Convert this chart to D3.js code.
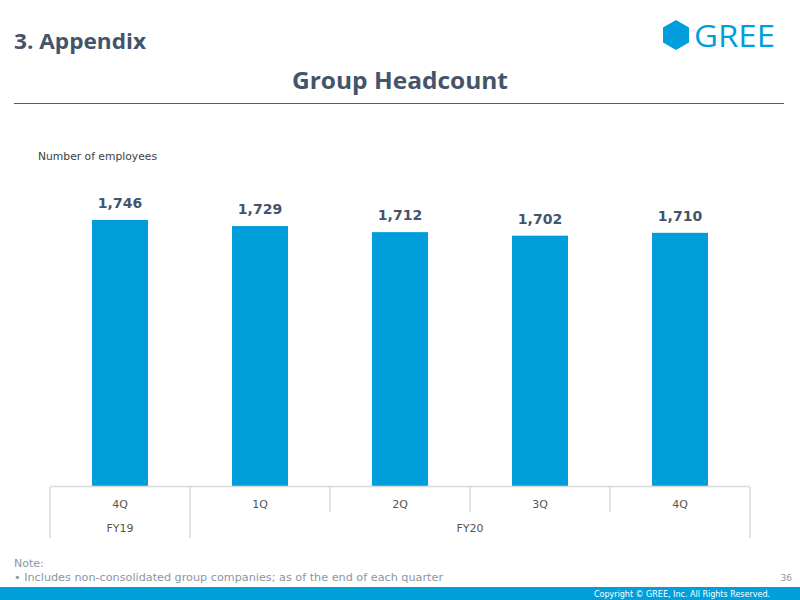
<!DOCTYPE html>
<html>
<head>
<meta charset="utf-8">
<script src="https://cdn.jsdelivr.net/npm/d3@7"></script>
<style>
  body { margin: 0; background: #fff; }
  svg { display: block; font-family: Verdana, "DejaVu Sans", sans-serif; }
</style>
</head>
<body>
<svg width="800" height="600"></svg>
<script>
  var quarters = ["4Q", "1Q", "2Q", "3Q", "4Q"];
  var years = [{ name: "FY19", span: 1 }, { name: "FY20", span: 4 }];
  var headcount = [1746, 1729, 1712, 1702, 1710];

  var svg = d3.select("svg"),
    blue = "#009fdb",
    dark = "#44546a";

  var x = d3.scaleBand()
    .domain(d3.range(quarters.length))
    .range([50, 750])
    .paddingInner(0)
    .paddingOuter(0);

  var y = d3.scaleLinear()
    .domain([1000, 1746])
    .range([486, 220]);

  // header
  svg.append("text").attr("x", 14).attr("y", 49)
    .attr("font-family", "'Open Sans', sans-serif").attr("font-weight", "bold")
    .attr("font-size", 21).attr("textLength", 132).attr("lengthAdjust", "spacingAndGlyphs")
    .attr("fill", dark).text("3. Appendix");

  svg.append("text").attr("x", 400).attr("y", 89).attr("text-anchor", "middle")
    .attr("font-family", "'Open Sans', sans-serif").attr("font-weight", "bold")
    .attr("font-size", 23).attr("textLength", 216).attr("lengthAdjust", "spacingAndGlyphs")
    .attr("fill", dark).text("Group Headcount");

  svg.append("line").attr("x1", 14).attr("x2", 784).attr("y1", 103.5).attr("y2", 103.5)
    .attr("stroke", "#595959").attr("stroke-width", 1);

  // logo
  var hex = d3.range(6).map(function(i) {
    var a = Math.PI / 3 * i - Math.PI / 2;
    return [676 + 15 * Math.cos(a), 35 + 15 * Math.sin(a)];
  });
  svg.append("polygon").attr("points", hex.join(" ")).attr("fill", blue);
  svg.append("text").attr("x", 694).attr("y", 47)
    .attr("font-family", "'Open Sans', sans-serif").attr("font-size", 31)
    .attr("textLength", 81).attr("lengthAdjust", "spacingAndGlyphs")
    .attr("fill", blue).text("GREE");

  svg.append("text").attr("x", 38).attr("y", 160)
    .attr("font-size", 11).attr("textLength", 119).attr("lengthAdjust", "spacingAndGlyphs")
    .attr("fill", "#404040").text("Number of employees");

  // bars
  svg.selectAll("rect.bar")
    .data(headcount)
    .enter().append("rect")
      .attr("class", "bar")
      .attr("x", function(d, i) { return x(i) + x.bandwidth() / 2 - 28; })
      .attr("width", 56)
      .attr("y", function(d) { return y(d); })
      .attr("height", function(d) { return y(1000) - y(d); })
      .attr("fill", blue);

  svg.selectAll("text.val")
    .data(headcount)
    .enter().append("text")
      .attr("class", "val")
      .attr("x", function(d, i) { return x(i) + x.bandwidth() / 2; })
      .attr("y", function(d) { return y(d) - 12; })
      .attr("text-anchor", "middle")
      .attr("font-weight", "bold").attr("font-size", 14)
      .attr("fill", dark)
      .text(d3.format(","));

  // category table
  var grid = "#d9d9d9";
  svg.append("line").attr("x1", 50).attr("x2", 750).attr("y1", 486.5).attr("y2", 486.5)
    .attr("stroke", grid).attr("stroke-width", 1.5);

  var xAxis = d3.axisBottom(x).tickSize(0).tickFormat(function(i) { return quarters[i]; });
  var ax = svg.append("g").attr("transform", "translate(0,487)").call(xAxis);
  ax.select(".domain").remove();
  ax.selectAll("text").attr("dy", 0).attr("y", 21)
    .attr("font-family", "Verdana, 'DejaVu Sans', sans-serif")
    .attr("font-size", 11).attr("fill", "#555");

  // vertical separators
  var start = 0, yearBounds = [0];
  years.forEach(function(g) { start += g.span; yearBounds.push(start); });
  d3.range(quarters.length + 1).forEach(function(i) {
    var xp = i < quarters.length ? x(i) : x.range()[1];
    var full = yearBounds.indexOf(i) >= 0;
    svg.append("line").attr("x1", xp).attr("x2", xp)
      .attr("y1", 487).attr("y2", full ? 538 : 512)
      .attr("stroke", grid).attr("stroke-width", 1.5);
  });

  var s = 0;
  years.forEach(function(g) {
    var x0 = x(s), x1 = s + g.span < quarters.length ? x(s + g.span) : x.range()[1];
    svg.append("text").attr("x", (x0 + x1) / 2).attr("y", 532)
      .attr("text-anchor", "middle").attr("font-size", 11).attr("fill", "#555").text(g.name);
    s += g.span;
  });

  // notes and footer
  svg.append("text").attr("x", 14).attr("y", 567).attr("font-size", 11)
    .attr("fill", "#8a96a3").text("Note:");
  svg.append("text").attr("x", 14).attr("y", 581).attr("font-size", 11)
    .attr("textLength", 429).attr("lengthAdjust", "spacingAndGlyphs")
    .attr("fill", "#8a96a3").text("\u2022 Includes non-consolidated group companies; as of the end of each quarter");
  svg.append("text").attr("x", 792).attr("y", 581).attr("text-anchor", "end")
    .attr("font-size", 9).attr("fill", "#8a96a3").text("36");

  svg.append("rect").attr("x", 0).attr("y", 587).attr("width", 800).attr("height", 13).attr("fill", blue);
  svg.append("text").attr("x", 770).attr("y", 597).attr("text-anchor", "end")
    .attr("font-size", 8).attr("fill", "#fff").text("Copyright \u00a9 GREE, Inc. All Rights Reserved.");
</script>
</body>
</html>
